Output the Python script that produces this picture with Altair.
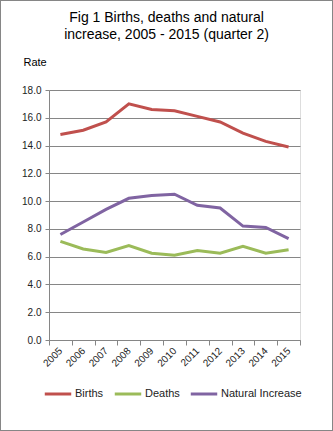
import altair as alt
import pandas as pd

years = [str(y) for y in range(2005, 2016)]
births = [14.8, 15.1, 15.7, 17.0, 16.6, 16.5, 16.1, 15.7, 14.9, 14.3, 13.9]
deaths = [7.1, 6.55, 6.3, 6.8, 6.25, 6.1, 6.45, 6.25, 6.75, 6.25, 6.5]
natural = [7.6, 8.5, 9.4, 10.2, 10.4, 10.5, 9.7, 9.5, 8.2, 8.1, 7.3]
series = ["Births", "Deaths", "Natural Increase"]
colors = ["#C0504D", "#9BBB59", "#8064A2"]
y_ticks = [0, 2, 4, 6, 8, 10, 12, 14, 16, 18]

rows = []
for name, vals in zip(series, [births, deaths, natural]):
    for yr, v in zip(years, vals):
        rows.append({"Year": yr, "Rate": v, "Series": name})
df = pd.DataFrame(rows)

FONT = "Liberation Sans"
W, H = 251, 250
LEFT, TOP = 49, 90

lines = alt.Chart(df).mark_line(strokeWidth=3).encode(
    x=alt.X("Year:O", bandPosition=0.5,
            scale=alt.Scale(type="band", paddingInner=0, paddingOuter=0),
            axis=alt.Axis(title=None, labelAngle=-45, labelAlign="right",
                          labelBaseline="middle", labelFontSize=10, labelFont=FONT,
                          labelColor="#222222", tickBand="extent", grid=False,
                          domainColor="#868686", tickColor="#868686", tickSize=5,
                          labelPadding=4)),
    y=alt.Y("Rate:Q", scale=alt.Scale(domain=[0, 18], nice=False),
            axis=alt.Axis(values=y_ticks, format=".1f", title="Rate", titleAngle=0,
                          titleX=-26, titleY=-28, titleAlign="left",
                          titleBaseline="middle", titleFont=FONT, titleFontSize=11,
                          titleFontWeight="normal", titleColor="#000000",
                          labelFont=FONT, labelFontSize=10, labelColor="#222222",
                          gridColor="#868686", domainColor="#868686",
                          tickColor="#868686", tickSize=4, labelPadding=4)),
    color=alt.Color("Series:N", scale=alt.Scale(domain=series, range=colors),
                    legend=alt.Legend(title=None, orient="none", legendX=-6,
                                      legendY=289, direction="horizontal",
                                      symbolType="stroke", symbolSize=700,
                                      symbolStrokeWidth=3, labelFont=FONT,
                                      labelFontSize=11, labelColor="#222222",
                                      columnPadding=4, labelOffset=2)),
)

border = alt.Chart(df).mark_rect(fill=None, stroke="#868686", strokeWidth=1).encode(
    x=alt.value(-LEFT + 0.5), x2=alt.value(333 - LEFT - 0.5),
    y=alt.value(-TOP + 0.5), y2=alt.value(431 - TOP - 0.5),
)

chart = alt.layer(lines, border).properties(
    width=W, height=H,
    title=alt.TitleParams(["Fig 1 Births, deaths and natural",
                           "increase, 2005 - 2015 (quarter 2)"],
                          font=FONT, fontSize=14, fontWeight="normal",
                          color="#000000", anchor="middle", frame="group",
                          dx=-8, offset=-42, lineHeight=17),
    autosize=alt.AutoSizeParams(type="none"),
    padding={"left": LEFT, "top": TOP, "right": 333 - LEFT - W, "bottom": 431 - TOP - H},
).configure_view(stroke=None).configure(background="white")

chart.save("out.html", embed_options={"renderer": "svg", "actions": False})
